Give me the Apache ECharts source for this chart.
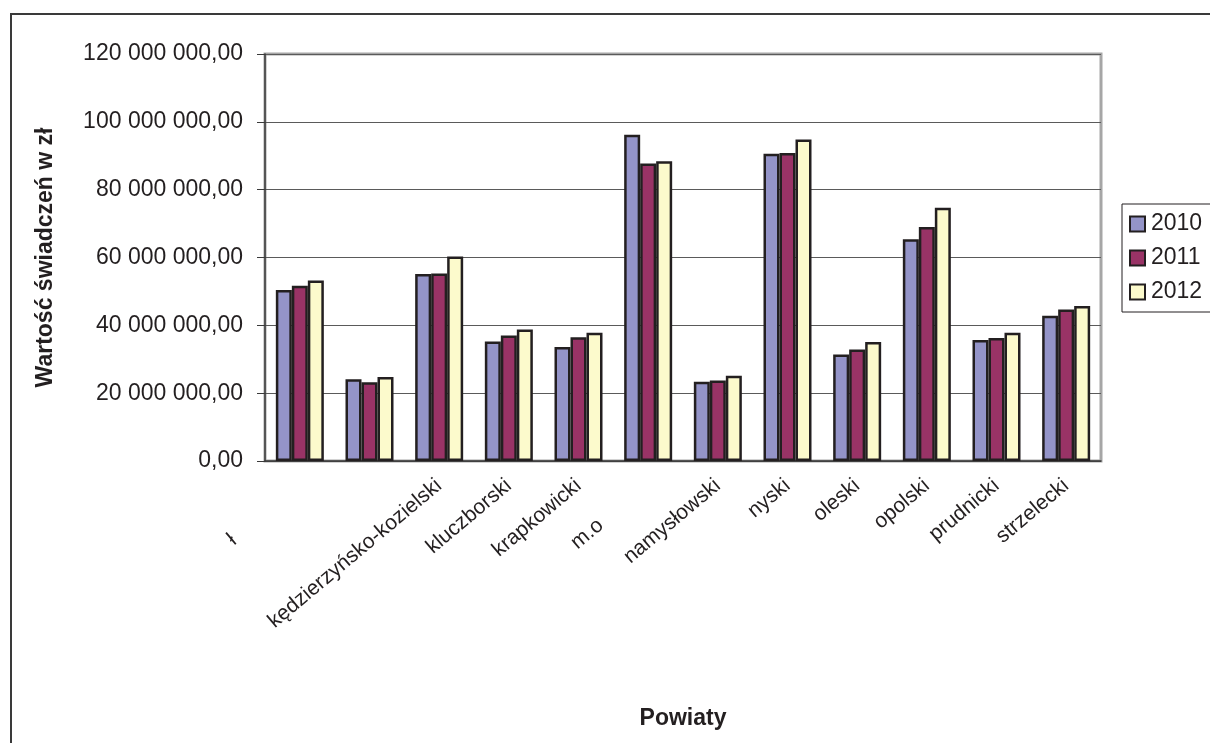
<!DOCTYPE html>
<html>
<head>
<meta charset="utf-8">
<script src="https://cdn.jsdelivr.net/npm/echarts@6/dist/echarts.min.js"></script>
<style>
    html, body { margin: 0; padding: 0; background: #fff; overflow: hidden; }
    #chart { width: 1240px; height: 770px; }
</style>
</head>
<body>
<div id="chart"></div>
<script>
// powiaty (etykiety tak jak widać na wykresie)
const categories = ['ł', '', 'kędzierzyńsko-kozielski', 'kluczborski', 'krapkowicki', 'm.o',
    'namysłowski', 'nyski', 'oleski', 'opolski', 'prudnicki', 'strzelecki']
const seriesNames = ['2010', '2011', '2012']
const data2010 = [50.4, 24.1, 55.1, 35.2, 33.6, 96.2, 23.4, 90.6, 31.4, 65.4, 35.7, 42.8].map(v => v * 1e6)
const data2011 = [51.7, 23.2, 55.3, 37.0, 36.5, 87.7, 23.7, 90.8, 32.9, 69.0, 36.3, 44.7].map(v => v * 1e6)
const data2012 = [53.2, 24.8, 60.3, 38.8, 37.8, 88.4, 25.1, 94.8, 35.1, 74.7, 37.8, 45.7].map(v => v * 1e6)
const yTicks = [0, 20e6, 40e6, 60e6, 80e6, 100e6, 120e6]

const colors = ['#9494c8', '#993366', '#fcfacc']
const txt = '#231f20'
const font = 'Liberation Sans'

// 120 000 000,00
function fmt(v) {
    return String(Math.round(v)).replace(/\B(?=(\d{3})+(?!\d))/g, ' ') + ',00'
}

const chart = echarts.init(document.getElementById('chart'))

const barSeries = [data2010, data2011, data2012].map((d, i) => ({
    name: seriesNames[i],
    type: 'bar',
    data: d,
    barWidth: 16,
    barGap: '0%',
    itemStyle: {
        color: colors[i],
        borderColor: '#231f20',
        borderWidth: 2.5
    }
}))

const option = {
    animation: false,
    backgroundColor: '#fff',
    textStyle: { fontFamily: font },
    graphic: [
        {
            // ramka wykresu
            type: 'rect',
            shape: { x: 11, y: 14, width: 1400, height: 900 },
            style: { fill: 'none', stroke: '#3a3a3a', lineWidth: 2 },
            silent: true
        }
    ],
    grid: {
        left: 265,
        top: 54,
        width: 836,
        height: 407,
        show: true,
        borderColor: '#a6a6a6',
        borderWidth: 3
    },
    legend: {
        data: seriesNames,
        orient: 'vertical',
        left: 1122,
        top: 204,
        padding: [8, 40, 8, 7],
        itemGap: 10,
        itemWidth: 15,
        itemHeight: 15,
        icon: 'rect',
        borderColor: '#231f20',
        borderWidth: 1,
        textStyle: { fontSize: 23, lineHeight: 24, color: txt, padding: [0, 0, 0, 1] },
        itemStyle: { borderColor: '#231f20', borderWidth: 2 }
    },
    xAxis: {
        type: 'category',
        data: categories,
        name: 'Powiaty',
        nameLocation: 'middle',
        nameGap: 246,
        nameTextStyle: { fontSize: 23, fontWeight: 'bold', color: txt },
        axisLine: { lineStyle: { color: '#3a3a3a', width: 1.5 } },
        axisTick: { length: 7, lineStyle: { color: '#3a3a3a' } },
        axisLabel: {
            interval: 0,
            rotate: 40,
            margin: 22,
            fontSize: 21,
            color: txt,
            formatter: function (v, i) {
                if (i === 0) return '{p0|' + v + '}'
                if (i === 5) return '{p5|' + v + '}'
                return v
            },
            rich: {
                p0: { fontSize: 21, color: txt, padding: [0, 86, 0, 0] },
                p5: { fontSize: 21, color: txt, padding: [0, 62, 0, 0] }
            }
        }
    },
    yAxis: {
        type: 'value',
        min: yTicks[0],
        max: yTicks[yTicks.length - 1],
        interval: yTicks[1] - yTicks[0],
        name: 'Wartość świadczeń w zł',
        nameLocation: 'middle',
        nameGap: 208,
        nameTextStyle: { fontSize: 23, fontWeight: 'bold', color: txt },
        axisLine: { show: true, lineStyle: { color: '#3a3a3a', width: 1.5 } },
        axisTick: { show: true, inside: false, length: 8, lineStyle: { color: '#3a3a3a' } },
        axisLabel: { fontSize: 23, color: txt, margin: 22, formatter: fmt },
        splitLine: { lineStyle: { color: '#5a5a5a', width: 1 } }
    },
    series: barSeries
}

chart.setOption(option)
window.addEventListener('resize', () => chart.resize())
</script>
</body>
</html>
